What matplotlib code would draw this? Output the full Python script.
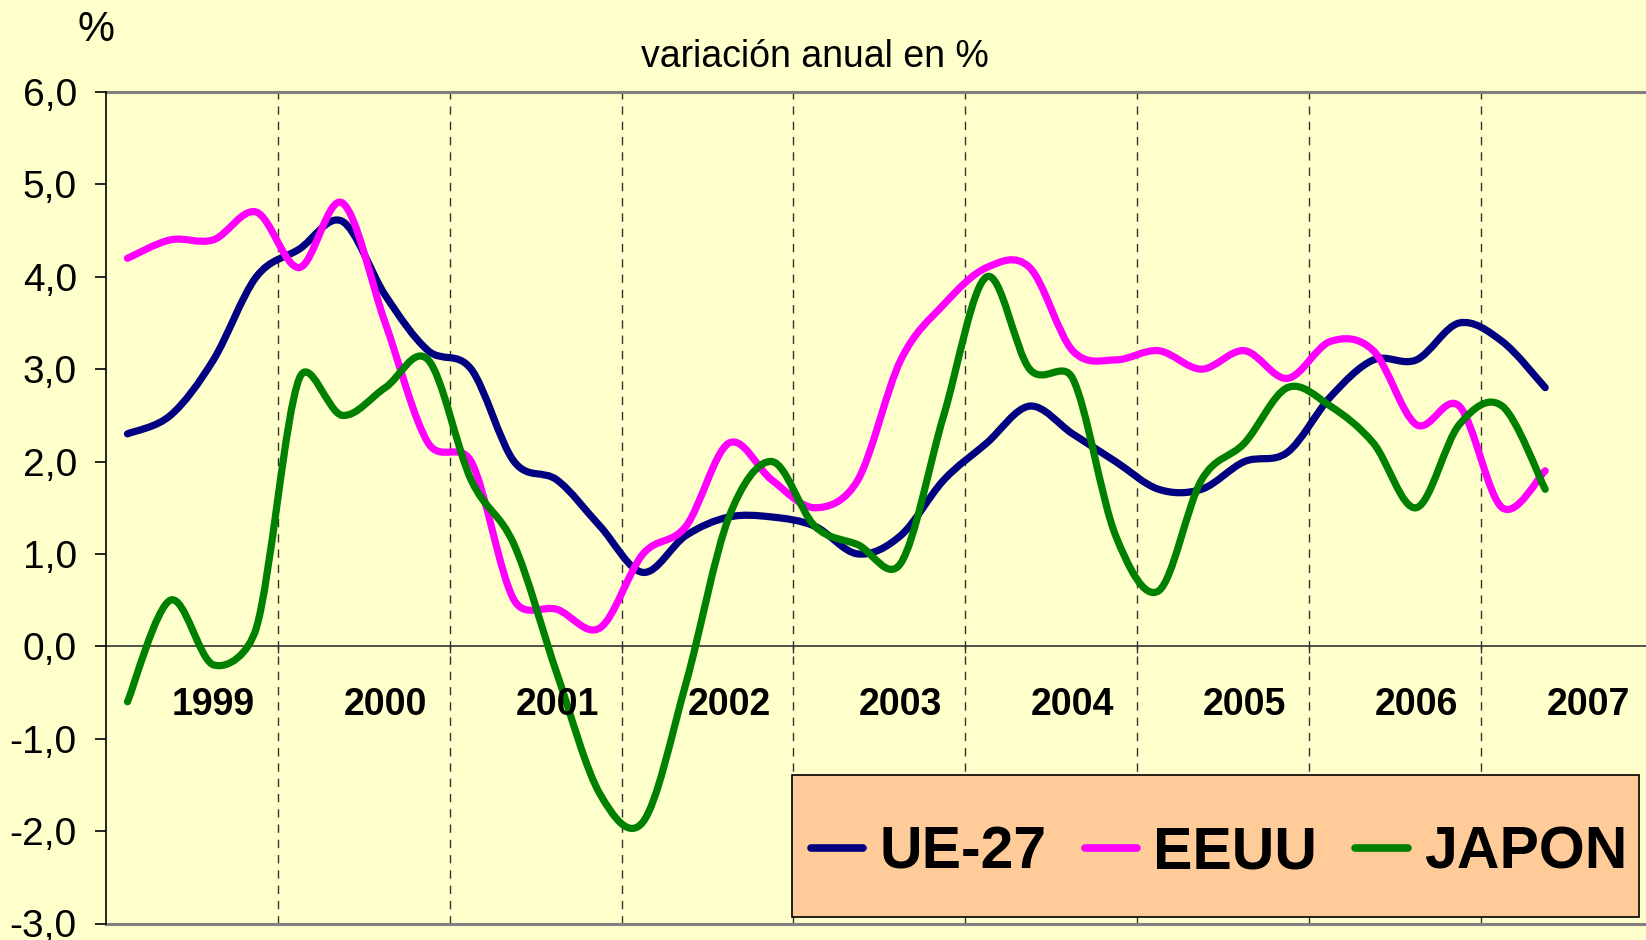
import numpy as np
import matplotlib
matplotlib.use("Agg")
import matplotlib.pyplot as plt
from matplotlib.path import Path
from matplotlib.patches import PathPatch, Rectangle
from matplotlib.lines import Line2D

# quarterly annual change (%), 1999Q1 .. 2007Q2
years = ["1999", "2000", "2001", "2002", "2003", "2004", "2005", "2006", "2007"]
ue27 = [2.3, 2.5, 3.1, 4.0, 4.3, 4.6, 3.8, 3.2, 3.0, 2.0, 1.8, 1.3, 0.8, 1.2, 1.4, 1.4, 1.3,
        1.0, 1.2, 1.8, 2.2, 2.6, 2.3, 2.0, 1.7, 1.7, 2.0, 2.1, 2.7, 3.1, 3.1, 3.5, 3.3, 2.8]
eeuu = [4.2, 4.4, 4.4, 4.7, 4.1, 4.8, 3.5, 2.2, 2.0, 0.5, 0.4, 0.2, 1.0, 1.3, 2.2, 1.8, 1.5,
        1.8, 3.1, 3.7, 4.1, 4.1, 3.2, 3.1, 3.2, 3.0, 3.2, 2.9, 3.3, 3.2, 2.4, 2.6, 1.5, 1.9]
japon = [-0.6, 0.5, -0.2, 0.2, 2.9, 2.5, 2.8, 3.1, 1.8, 1.1, -0.3, -1.6, -1.9, -0.4, 1.4, 2.0, 1.3,
         1.1, 0.9, 2.5, 4.0, 3.0, 2.9, 1.2, 0.6, 1.8, 2.2, 2.8, 2.6, 2.2, 1.5, 2.4, 2.6, 1.7]
series_names = ["UE-27", "EEUU", "JAPON"]
series_colors = ["#000080", "#FF00FF", "#008000"]

plt.rcParams['font.family'] = ['Liberation Sans', 'DejaVu Sans']
bg = "#FFFFCC"

PX_X = 42.96  # pixels per category
PX_Y = 92.4   # pixels per unit


def smooth_path(x, y):
    # excel-ish smoothed line: bezier through every point, handles = 1/6 of the
    # neighbour chord, but never longer than half the segment (screen units)
    pts = np.column_stack([np.asarray(x) * PX_X, np.asarray(y) * PX_Y]).astype(float)
    n = len(pts)
    tang = [pts[min(i + 1, n - 1)] - pts[max(i - 1, 0)] for i in range(n)]
    verts = [pts[0]]
    codes = [Path.MOVETO]
    for i in range(n - 1):
        seg = np.hypot(*(pts[i + 1] - pts[i]))
        h = []
        for t in (tang[i], tang[i + 1]):
            v = t / 6.0
            ln = np.hypot(*v)
            if ln > 0.5 * seg:
                v = v * (0.5 * seg / ln)
            h.append(v)
        verts += [pts[i] + h[0], pts[i + 1] - h[1], pts[i + 1]]
        codes += [Path.CURVE4] * 3
    verts = np.array(verts) / [PX_X, PX_Y]
    return Path(verts, codes)


fig = plt.figure(figsize=(16.46, 9.40), dpi=100, facecolor=bg)
ax = fig.add_axes([106 / 1646, 16.5 / 940, 1546.6 / 1646, 831.5 / 940], facecolor=bg)
ax.set_xlim(-0.5, 35.5)
ax.set_ylim(-3, 6)

# year separators
bounds = np.arange(3.5, 32, 4)
ax.vlines(bounds, -3, 6, colors="#333333", linestyles=(0, (6, 5)), linewidth=1, zorder=1)
ax.vlines(bounds, -0.07, 0, colors="#333333", linewidth=1, zorder=1)
ax.axhline(0, color="#333333", linewidth=1.2, zorder=1)
ax.axhline(6, color="#808080", linewidth=2.2, zorder=1, clip_on=False)
ax.axhline(-3, color="#808080", linewidth=2.2, zorder=1, clip_on=False)

xs = np.arange(len(ue27))
for vals, col in zip([ue27, eeuu, japon], series_colors):
    patch = PathPatch(smooth_path(xs, vals), fill=False, edgecolor=col, linewidth=5.2,
                      capstyle="round", joinstyle="round", zorder=3)
    ax.add_patch(patch)

for k, yr in enumerate(years):
    ax.text(2 + 4 * k, -0.63, yr, ha="center", va="center", fontsize=27, fontweight="bold")

for s in ["top", "right", "bottom"]:
    ax.spines[s].set_visible(False)
ax.spines["left"].set_linewidth(1.2)
ax.set_xticks([])
yt = np.arange(-3, 7)
ax.set_yticks(yt)
ax.set_yticklabels([f"{v:.1f}".replace(".", ",") for v in yt], fontsize=28)
ax.tick_params(axis="y", direction="out", length=8, width=1.2, pad=13)

fig.text(96 / 1646, 1 - 30 / 940, "%", ha="center", va="center", fontsize=30)
fig.text(815 / 1646, 1 - 57 / 940, "variación anual en %", ha="center", va="center", fontsize=27)

# legend box
box = Rectangle((792 / 1646, 23 / 940), 847 / 1646, 142 / 940, transform=fig.transFigure,
                facecolor="#FFCC99", edgecolor="black", linewidth=1.2, zorder=4)
ax.add_patch(box)
handles = [Line2D([], [], color=c, linewidth=5.5, solid_capstyle="round") for c in series_colors]
leg = ax.legend(handles, series_names, ncol=3, frameon=False, loc="center",
                bbox_to_anchor=(1219 / 1646, 1 - 853 / 940), bbox_transform=fig.transFigure,
                prop={"size": 42.5, "weight": "bold"}, handlelength=0.89, handletextpad=0.27,
                columnspacing=0.65)
leg.set_zorder(5)

fig.savefig("out.png", dpi=100, facecolor=bg)
